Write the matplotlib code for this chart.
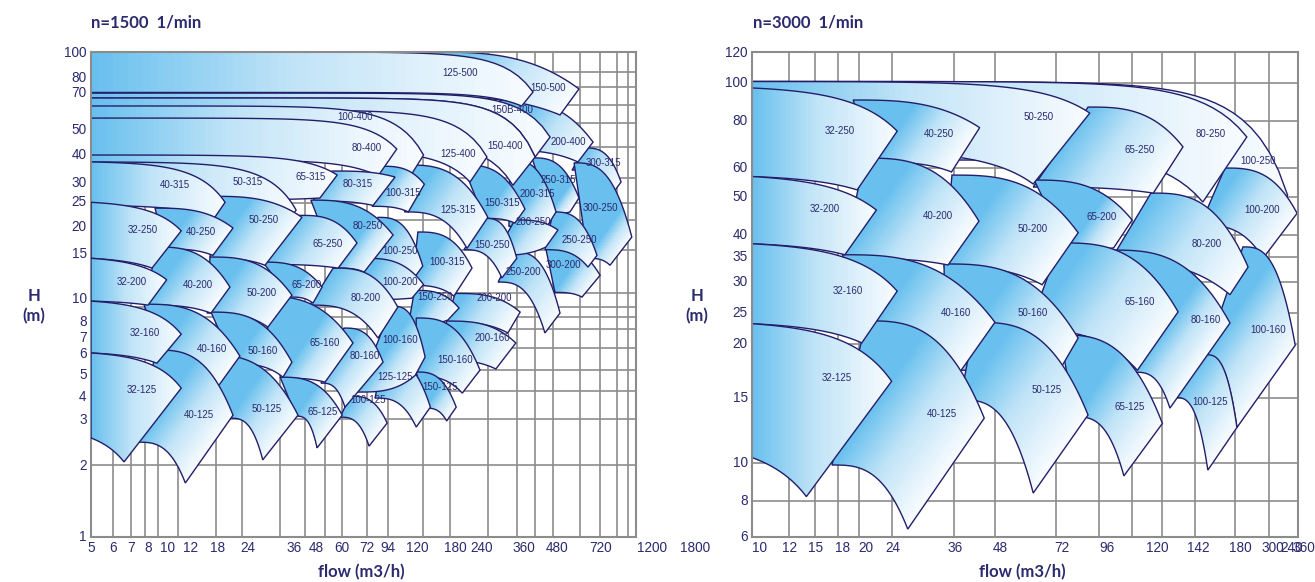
import numpy as np
import matplotlib.pyplot as plt
from matplotlib.path import Path
from matplotlib.patches import PathPatch
from matplotlib.colors import LinearSegmentedColormap
from matplotlib.transforms import blended_transform_factory

NAVY = '#2b2a6e'
EDGE = '#241e69'
GRID = '#8c8c8c'

# ---------------- n=1500 : pump ranges (flow m3/h, head m), in drawing order ----------------
l_names = ['300-315', '300-250', '300-200', '250-315', '250-250', '250-200',
           '200-400', '200-315', '200-250', '200-200', '200-160',
           '150-500', '150B-400', '150-400', '150-315', '150-250', '150-250', '150-160', '150-125',
           '125-500', '125-400', '125-315', '125-125',
           '100-400', '100-315', '100-315', '100-250', '100-200', '100-160', '100-125',
           '80-400', '80-315', '80-250', '80-200', '80-160',
           '65-315', '65-250', '65-200', '65-160', '65-125',
           '50-315', '50-250', '50-200', '50-160', '50-125',
           '40-315', '40-250', '40-200', '40-160', '40-125',
           '32-250', '32-200', '32-160', '32-125']
# top-left corner
l_qa = [632, 568, 427, 376, 462, 312, 275, 303, 318, 177, 163,
        139, 5, 5, 191, 237, 119, 121, 121,
        5, 5, 110, 87.4,
        5, 85.7, 123, 83.2, 72.6, 95.3, 63.3,
        5, 53, 43.1, 53.6, 59.6,
        5, 38.5, 26.9, 25.9, 31.9,
        5, 16.3, 16.05, 16.2, 15.6,
        5, 9.36, 9.36, 8.4, 9.45,
        5, 5, 5, 5]
l_ha = [40.2, 34.9, 16.1, 36.6, 21.9, 15.0, 63.4, 35.9, 20.3, 10.1, 7.77,
        100, 67.7, 64.6, 34.2, 20.6, 10.4, 8.0, 4.79,
        100, 57.6, 34.2, 5.47,
        59.9, 33.8, 18.1, 20.8, 14.1, 8.95, 3.81,
        53.4, 32.3, 24.5, 12.85, 7.27,
        37.6, 21.2, 13.6, 9.85, 4.56,
        35.2, 25.4, 14.27, 8.46, 5.63,
        35.2, 22.7, 15.7, 9.12, 5.90,
        24.0, 14.1, 9.39, 5.74]
# right vertex (end of the largest impeller curve)
l_qb = [900, 1000, 733, 596, 711, 495, 684, 476, 485, 335, 321,
        596, 449, 388, 351, 324, 184, 226, 179,
        380, 242, 244, 139,
        130, 131, 209, 129, 130, 132, 91,
        100, 98.3, 96.4, 101, 87.4,
        55.8, 67.7, 48.1, 65.1, 58.6,
        37.3, 39.5, 35.8, 35.8, 38.0,
        18.6, 20.1, 19.5, 21.5, 20.1,
        12.1, 10.5, 12.1, 12.1]
l_hb = [29.1, 17.25, 12.0, 25.0, 14.5, 8.38, 42.5, 21.9, 18.45, 8.46, 6.31,
        70.4, 44.6, 36.9, 22.5, 14.1, 8.79, 4.88, 3.43,
        68.4, 36.9, 20.8, 3.43,
        37.6, 28.5, 12.85, 13.1, 11.0, 5.52, 2.95,
        39.8, 30.5, 17.6, 8.87, 5.26,
        31.1, 16.3, 10.73, 6.31, 3.18,
        22.3, 20.8, 9.94, 5.26, 3.18,
        24.0, 18.8, 10.73, 5.57, 3.18,
        18.3, 11.5, 6.86, 4.11]
# lower-right vertex (end of the smallest impeller curve)
l_qc = [832, 808, 614, 546, 651, 427, 590, 436, 431, 297, 264,
        495, 388, 312, 318, 280, 165, 190, 163,
        340, 205, 199, 121,
        108, 112, 175, 120, 116, 120, 76.2,
        83.2, 79.3, 72.6, 83.2, 60.2,
        47.1, 56.3, 44.0, 49.5, 45.8,
        35.8, 27.5, 28.3, 32.8, 26.9,
        16.7, 16.5, 16.2, 17.4, 12.6,
        9.09, 8.74, 9.54, 6.91]
l_hc = [26.2, 13.2, 9.76, 21.9, 12.97, 6.94, 35.2, 19.1, 15.7, 6.94, 4.93,
        55.0, 36.9, 28.2, 19.7, 11.7, 7.85, 3.92, 3.01,
        59.9, 29.1, 15.5, 2.84,
        28.2, 21.9, 9.85, 11.9, 9.66, 4.65, 2.37,
        30.8, 23.3, 12.37, 6.61, 3.43,
        25.0, 12.85, 9.21, 4.35, 2.33,
        21.0, 13.2, 7.34, 4.56, 2.08,
        20.6, 14.5, 8.38, 4.19, 1.67,
        12.85, 9.04, 5.21, 2.04]
# lower-left corner
l_qd = [557, 651, 471, 449, 427, 270, 275, 300, 262, 163, 153,
        139, 5, 5, 235, 193, 112, 120, 132,
        5, 5, 108, 80.8,
        5, 78.6, 116, 74, 63.3, 68.4, 57.4,
        5, 44, 55.8, 42.7, 47.6,
        5, 27.2, 35.1, 32.2, 37.3,
        5, 16.05, 15.6, 20.3, 19.5,
        5, 10.4, 8.66, 9.83, 7.92,
        5, 5, 5, 5]
l_hd = [32.6, 14.1, 10.2, 21.5, 15.3, 11.25, 39.4, 19.1, 14.5, 7.70, 5.37,
        65.2, 64.6, 43.4, 20.6, 15.3, 7.48, 4.61, 3.40,
        68.1, 39.4, 21.9, 3.74,
        39.4, 23.1, 10.9, 13.6, 9.49, 3.96, 3.12,
        35.9, 24.3, 12.85, 9.04, 4.31,
        24.5, 13.3, 9.76, 4.52, 3.15,
        24.5, 14.1, 8.38, 5.17, 3.09,
        23.3, 15.4, 9.04, 5.79, 2.46,
        14.1, 9.39, 5.74, 2.56]
# label positions
l_lq = [754, 733, 510, 485, 596, 345, 535, 396, 380, 259, 254,
        440, 309, 289, 280, 254, 145, 177, 153,
        186, 182, 182, 98.3,
        66.4, 106, 164, 103, 103, 103, 75.4,
        74.8, 68.4, 75.4, 74, 73.3,
        43.1, 51, 41.5, 49.5, 48.5,
        23.3, 27, 26.7, 26.9, 28.0,
        11.4, 14.7, 14.2, 16.4, 14.4,
        8.32, 7.47, 8.49, 8.24]
l_lh = [34.9, 22.7, 13.2, 29.7, 16.8, 12.37, 42.5, 25.9, 19.9, 9.66, 6.61,
        71.0, 57.6, 41.0, 23.8, 16.0, 9.76, 5.37, 4.15,
        82.0, 37.9, 22.3, 4.56,
        53.9, 26.2, 13.6, 15.1, 11.25, 6.49, 3.67,
        40.2, 28.5, 19.1, 9.66, 5.58,
        30.5, 16.2, 10.9, 6.31, 3.28,
        29.1, 20.3, 10.1, 5.84, 3.37,
        28.2, 18.1, 10.9, 5.96, 3.18,
        18.45, 11.25, 6.94, 4.04]

# ---------------- n=3000 ----------------
r_names = ['100-250', '100-200', '100-160', '100-125',
           '80-250', '80-200', '80-160',
           '65-250', '65-200', '65-160', '65-125',
           '50-250', '50-200', '50-160', '50-125',
           '40-250', '40-200', '40-160', '40-125',
           '32-250', '32-200', '32-160', '32-125']
r_qa = [10, 211, 237, 186, 10, 131, 101, 87.3, 61.7, 72.9, 72.8,
        10, 36.3, 34.5, 42.1, 19.2, 20.7, 17.9, 20.9, 10, 10, 10, 10]
r_ha = [100, 58.6, 36.0, 18.5, 100, 50.2, 35.3, 85.4, 54.4, 36.9, 20.9,
        100, 56.1, 32.4, 22.6, 89.2, 62.3, 34.3, 22.8, 96.1, 55.6, 36.7, 22.4]
r_qb = [316, 336, 332, 228, 243, 245, 218, 161, 116, 156, 141,
        88.3, 81.9, 81.9, 87.3, 43.4, 43.2, 47.9, 44.7, 25.5, 22.3, 25.5, 24.6]
r_hb = [49.6, 44.3, 19.6, 11.8, 71.0, 31.8, 22.5, 66.8, 42.5, 24.1, 12.1,
        82.3, 39.3, 20.5, 12.75, 75.2, 42.2, 22.6, 12.5, 73.6, 45.2, 27.4, 15.7]
r_qc = [310, 270, 228, 189, 183, 218, 148, 133, 103, 120, 110,
        61.3, 64.9, 73.8, 61.3, 36.2, 35.4, 38.0, 27.3, 19.7, 18.2, 20.3, 14.2]
r_hc = [46.6, 33.6, 11.8, 9.07, 47.5, 26.8, 13.3, 50.2, 35.8, 16.8, 8.75,
        53.1, 28.5, 17.25, 7.87, 57.2, 32.2, 16.5, 6.3, 51.2, 34.3, 19.9, 7.7]
r_qd = [10, 180, 186, 153, 10, 100.5, 118, 61.3, 76.8, 59.3, 80.2,
        10, 34.5, 34.7, 38.3, 22.1, 18.0, 22.0, 16.75, 10, 10, 10, 10]
r_hd = [61.6, 41.2, 18.4, 14.2, 65.5, 32.9, 16.6, 52.1, 35.3, 21.5, 12.6,
        65.5, 31.8, 16.8, 14.0, 60.8, 33.6, 22.4, 9.36, 55.6, 36.7, 22.4, 9.8]
r_lq = [261, 268, 278, 192, 192, 187, 186, 122, 95.5, 122, 114,
        63.3, 61.2, 61.2, 67, 33.4, 33.1, 37.3, 34.1, 17.6, 16.0, 18.6, 17.3]
r_lh = [61.2, 45.2, 21.5, 13.8, 72.3, 36.7, 22.9, 65.5, 43.2, 25.6, 13.4,
        80.2, 40.1, 23.9, 14.9, 72.3, 43.6, 23.9, 12.8, 73.6, 45.5, 27.4, 16.0]

# ---------------- axes labelling ----------------
l_xtick_val = [5, 6.2, 7.4, 8.74, 10.6, 13.2, 17.35, 23.3, 36.5, 45.4, 58.5, 74.7,
               91.8, 122, 177, 229, 348, 481, 733, 1220, 1858]
l_xtick_lab = ['5', '6', '7', '8', '10', '12', '18', '24', '36', '48', '60', '72',
               '94', '120', '180', '240', '360', '480', '720', '1200', '1800']
l_ytick_val = [99, 78.2, 67.7, 47.7, 37.6, 28.9, 24.0, 19.0, 14.7, 9.6, 7.7, 6.61,
               5.69, 4.65, 3.78, 3.04, 1.96, 1]
l_ytick_lab = ['100', '80', '70', '50', '40', '30', '25', '20', '15', '10', '8', '7',
               '6', '5', '4', '3', '2', '1']
l_xgrid = [6.2, 7.4, 8.5, 9.6, 11.7, 17.0, 22.0, 31.9, 40.7, 49.5, 58.5, 74.7, 91.8,
           129, 169, 245, 325, 387, 462, 602, 733, 865, 964]
l_ygrid = [1.98, 3.07, 4.0, 4.9, 6.0, 7.2, 8.1, 8.9, 10.1, 15.3, 20.2, 23.8, 30.2,
           40.5, 50.9, 60.3, 71.7, 82.8]

r_xtick_val = [10.5, 12.7, 15.1, 17.9, 20.9, 24.8, 37.0, 49.7, 73.9, 98.8, 136, 178,
               233, 288, 324, 352]
r_xtick_lab = ['10', '12', '15', '18', '20', '24', '36', '48', '72', '96', '120', '142',
               '180', '300', '240', '360']
r_ytick_val = [119.2, 99.1, 78.4, 58.6, 49.0, 38.7, 33.8, 29.0, 23.9, 19.8, 14.2,
               9.48, 7.5, 6]
r_ytick_lab = ['120', '100', '80', '60', '50', '40', '35', '30', '25', '20', '15',
               '10', '8', '6']
r_xgrid = [12.7, 15.0, 17.4, 19.9, 24.7, 36.8, 47.9, 71.0, 93.8, 116, 141, 174, 225, 281]
r_ygrid = [99.1, 78.4, 58.6, 49.0, 38.7, 33.8, 29.0, 23.9, 19.8, 14.2, 9.48, 7.5]

cmap = LinearSegmentedColormap.from_list(
    'pump', [(0, '#69c0ee'), (0.45, '#c0e3f7'), (1, '#f7fbfe')])


def curve(q0, h0, q1, h1, from_axis, n=60):
    q = np.geomspace(q0, q1, n)
    if from_axis:
        # long curves starting at the axis: flat, then falling like a pump curve
        f = (q ** 3 - q0 ** 3) / (q1 ** 3 - q0 ** 3)
        return q, h0 - (h0 - h1) * f
    u = np.log(q / q0) / np.log(q1 / q0)
    return q, h0 * (h1 / h0) ** (u ** 3)


def draw_ranges(ax, names, qa, ha, qb, hb, qc, hc, qd, hd, lq, lh, qmin):
    T = ax.transData
    inv = T.inverted()
    for i, name in enumerate(names):
        at_axis = qa[i] <= qmin and qd[i] <= qmin
        tq, th = curve(qa[i], ha[i], qb[i], hb[i], at_axis)
        bq, bh = curve(qd[i], hd[i], qc[i], hc[i], at_axis)
        xs = np.concatenate([tq, bq[::-1], tq[:1]])
        ys = np.concatenate([th, bh[::-1], th[:1]])
        path = Path(np.column_stack([xs, ys]), closed=True)
        z = 2 + i * 0.01

        # colour runs from blue at the left boundary to white at the right vertex,
        # following the slant of the left boundary
        pix = T.transform(np.column_stack([xs, ys]))
        pa, pb, pd = T.transform([(qa[i], ha[i]), (qb[i], hb[i]), (qd[i], hd[i])])
        k = 0.0 if at_axis else 0.7
        s0 = max(pa[0] - k * pa[1], pd[0] - k * pd[1])
        s1 = pb[0] - k * pb[1]
        sv = np.concatenate([[s0 - 3000], np.linspace(s0, s1, 60), [s1 + 3000]])
        ylo, yhi = pix[:, 1].min() - 3, pix[:, 1].max() + 3
        gx = np.vstack([sv + k * ylo, sv + k * yhi])
        gy = np.vstack([np.full_like(sv, ylo), np.full_like(sv, yhi)])
        dat = inv.transform(np.column_stack([gx.ravel(), gy.ravel()]))
        gxd = dat[:, 0].reshape(gx.shape)
        gyd = dat[:, 1].reshape(gy.shape)
        cval = np.concatenate([[0], np.linspace(0, 1, 59), [1]])[None, :]
        mesh = ax.pcolormesh(gxd, gyd, cval, cmap=cmap, vmin=0, vmax=1,
                             shading='flat', zorder=z, antialiased=False, linewidth=0)
        mesh.set_clip_path(PathPatch(path, transform=T))
        ax.add_patch(PathPatch(path, facecolor='none', edgecolor=EDGE, lw=1.0,
                               zorder=z + 0.005))
        ax.text(lq[i], lh[i], name, ha='center', va='center', fontsize=7,
                color=NAVY, family='Liberation Sans', zorder=50)


def setup(ax, xlim, ylim, xgrid, ygrid, xv, xl, yv, yl):
    ax.set_xscale('log')
    ax.set_yscale('log')
    ax.set_xlim(*xlim)
    ax.set_ylim(*ylim)
    ax.tick_params(which='both', length=0, labelbottom=False, labelleft=False)
    for g in xgrid:
        ax.axvline(g, color=GRID, lw=1.2, zorder=1)
    for g in ygrid:
        ax.axhline(g, color=GRID, lw=1.2, zorder=1)
    for s in ax.spines.values():
        s.set_color(GRID)
        s.set_linewidth(1.5)
    bx = blended_transform_factory(ax.transData, ax.transAxes)
    for v, t in zip(xv, xl):
        ax.text(v, -0.023, t, transform=bx, ha='center', va='center', fontsize=9.8,
                color=NAVY, family='Liberation Sans', clip_on=False)
    by = blended_transform_factory(ax.transAxes, ax.transData)
    for v, t in zip(yv, yl):
        ax.text(-0.008, v, t, transform=by, ha='right', va='center', fontsize=9.8,
                color=NAVY, family='Liberation Sans', clip_on=False)


fig = plt.figure(figsize=(13.15, 5.82), dpi=100)
axL = fig.add_axes([91 / 1315, 45 / 582, 545 / 1315, 485 / 582])
axR = fig.add_axes([752 / 1315, 45 / 582, 546 / 1315, 485 / 582])

setup(axL, (5, 1042), (1, 100), l_xgrid, l_ygrid, l_xtick_val, l_xtick_lab, l_ytick_val, l_ytick_lab)
setup(axR, (10, 338), (6, 120), r_xgrid, r_ygrid, r_xtick_val, r_xtick_lab, r_ytick_val, r_ytick_lab)

draw_ranges(axL, l_names, l_qa, l_ha, l_qb, l_hb, l_qc, l_hc, l_qd, l_hd, l_lq, l_lh, 5)
draw_ranges(axR, r_names, r_qa, r_ha, r_qb, r_hb, r_qc, r_hc, r_qd, r_hd, r_lq, r_lh, 10)

title_kw = dict(fontsize=12, fontweight='bold', color=NAVY, family='Lato', va='center')
fig.text(91 / 1315, 1 - 23 / 582, 'n=1500  1/min', ha='left', **title_kw)
fig.text(753 / 1315, 1 - 23 / 582, 'n=3000  1/min', ha='left', **title_kw)
fig.text(361 / 1315, 1 - 572 / 582, 'flow (m3/h)', ha='center', **title_kw)
fig.text(1022 / 1315, 1 - 572 / 582, 'flow (m3/h)', ha='center', **title_kw)
fig.text(34 / 1315, 1 - 306 / 582, 'H\n(m)', ha='center', linespacing=1.3, **title_kw)
fig.text(697 / 1315, 1 - 306 / 582, 'H\n(m)', ha='center', linespacing=1.3, **title_kw)

fig.savefig('out.png', dpi=100)
